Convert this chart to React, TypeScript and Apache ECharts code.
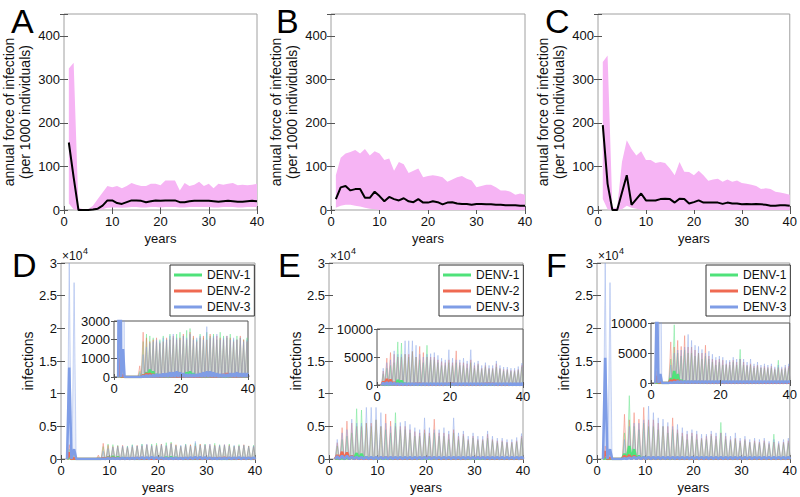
import React, { useEffect, useRef } from "react";
import * as echarts from "echarts";

// ---------- Top panels (A, B, C): annual force of infection, years 1..40 ----------
const YEARS = [1,2,3,4,5,6,7,8,9,10,11,12,13,14,15,16,17,18,19,20,21,22,23,24,25,26,27,28,29,30,31,32,33,34,35,36,37,38,39,40];

const A_MEAN = [155,75,0,0,0,1,3,10,22,22, 16,14,18,22,22,21,18,20,22,21, 22,22,22,18,18,20,21,21,21,21, 20,19,20,21,20,19,19,20,21,20];
const A_UP = [325,338,5,2,2,10,25,40,55,52, 55,50,55,62,58,55,55,60,60,57, 68,68,68,45,62,55,58,65,55,60, 50,60,58,60,62,57,58,57,58,60];
const A_LOW = [15,2,0,0,0,0,0,2,5,6, 6,5,6,7,7,6,6,7,7,6, 7,7,7,6,6,7,7,7,7,7, 6,6,7,7,7,6,6,7,7,7];

const B_MEAN = [25,52,55,45,48,48,28,28,42,32, 20,30,25,22,27,20,18,25,17,17, 20,18,13,17,18,15,14,14,12,14, 14,13,13,12,12,11,11,11,10,10];
const B_UP = [80,120,130,133,138,130,140,125,135,130, 115,118,90,110,105,85,90,95,75,78, 80,78,75,65,70,75,78,72,68,52, 55,58,58,52,45,45,42,35,38,35];
const B_LOW = [5,10,12,12,10,8,5,3,2,0, 0,0,0,0,0,0,0,0,0,0, 0,0,0,0,0,0,0,0,0,0, 0,0,0,0,0,0,0,0,0,0];

const C_MEAN = [195,60,0,0,40,80,12,25,38,22, 22,22,25,26,25,17,26,25,15,18, 22,17,17,17,17,14,17,15,15,13, 14,13,14,13,12,10,10,11,11,10];
const C_UP = [340,355,5,5,110,160,140,125,135,115, 115,108,110,108,95,80,110,88,87,80, 90,80,67,70,72,65,70,65,68,62, 60,58,55,48,50,48,42,40,38,35];
const C_LOW = [25,2,0,0,2,10,5,3,0,0, 0,0,0,0,0,0,0,0,0,0, 0,0,0,0,0,0,0,0,0,0, 0,0,0,0,0,0,0,0,0,0];

// ---------- Bottom panels (D, E, F): seasonal peak of infections per season (1..39) ----------
const SEROTYPES = ["DENV-1", "DENV-2", "DENV-3"];

const D_UP_1 = [1500,600,0,0,0,0,300,1900,2300,2200,2100,1900,2000,2200,2000,2300,2100,2300,2400,2200,2500,2600,2100,2000,2300,2100,2400,2200,2300,2000,2400,2200,2100,2300,2000,2200,2100,2000,2100];
const D_UP_2 = [2200,800,0,0,0,0,600,2400,2100,1900,2000,2100,1800,1900,2100,2000,2200,2000,2100,2300,2000,2400,2200,1900,2100,2200,2000,2300,2100,2200,2100,2000,2200,2100,1900,2000,2200,2000,1900];
const D_UP_3 = [30000,27000,0,0,0,0,200,1200,1600,1800,1900,2000,1900,2100,2000,2200,2300,2100,2000,2200,2100,2300,2000,2100,2200,2000,2700,2100,2200,2300,2000,2100,2200,2000,2100,2000,2100,1900,2000];
const D_MEAN_1 = [300,50,0,0,0,0,0,100,250,400,300,150,100,80,60,50,60,80,100,150,250,300,200,100,60,50,50,60,80,100,80,60,50,50,60,80,100,80,60];
const D_MEAN_2 = [1000,100,0,0,0,0,0,100,200,200,150,120,100,120,150,120,100,80,80,100,120,100,80,80,100,120,150,120,100,100,120,150,200,150,100,100,120,150,120];
const D_MEAN_3 = [14000,1500,0,0,0,0,0,50,100,100,120,150,150,180,200,250,250,300,250,200,150,150,150,150,200,250,300,300,250,200,150,150,150,200,200,250,200,200,200];

const E_UP_1 = [2000,3000,3500,4000,7700,7500,5500,5000,6000,5000,4500,4000,7100,4500,4500,4000,3500,3500,4000,3500,4000,3500,3500,3000,4000,3000,3500,2800,3200,2800,2800,3200,2800,2500,2600,2400,2400,2600,3200];
const E_UP_2 = [2500,4800,5800,5500,5000,5000,5500,5500,6000,5000,6900,5800,5000,5000,5000,4500,4200,4000,4500,4000,6100,4000,4000,3800,4500,3500,3800,3000,3500,3000,3000,3800,3000,2800,2800,2600,2600,2800,3500];
const E_UP_3 = [3000,4000,4500,6100,5500,5500,7900,7900,7900,7100,5500,5000,5500,5600,5800,5300,4800,4500,6300,4800,4500,4500,4800,4300,6300,4000,4300,3500,4000,3500,3500,4300,3500,3200,3200,3000,3000,3300,3900];
const E_MEAN_1 = [100,150,200,300,900,800,300,200,150,150,100,100,150,200,150,100,100,100,100,100,100,100,100,100,100,100,100,100,100,100,100,100,100,100,100,100,100,100,100];
const E_MEAN_2 = [600,1100,1000,500,200,150,150,150,200,250,300,200,150,150,150,150,150,200,250,300,200,150,150,150,150,150,150,200,250,300,250,150,150,150,150,150,150,150,150];
const E_MEAN_3 = [400,500,500,400,300,300,300,300,300,300,300,300,300,300,300,300,300,300,300,300,300,300,300,300,300,300,300,300,300,300,300,300,300,300,300,300,300,300,300];

const F_UP_1 = [500,300,0,0,4000,9700,5000,4500,5500,5000,5000,4500,5000,4000,4500,4000,3500,3000,3500,3000,3000,3000,3500,3000,5600,3000,2800,3000,2500,2800,2500,2500,2400,2500,2200,3800,2200,2400,2500];
const F_UP_2 = [2000,1000,0,0,6850,6000,7100,6100,7900,6000,6000,5500,5000,5000,6300,4500,4000,3800,4000,3800,3200,3500,3800,3500,4000,3500,3000,3200,2800,3000,2600,2800,2600,2800,2400,2600,2400,2600,2800];
const F_UP_3 = [30000,27000,0,0,3000,5000,5500,5500,6000,8100,7100,6300,6100,5600,5000,5300,4800,4300,4500,4300,3800,3800,4300,4000,4000,4000,3500,4000,3200,3500,3000,3200,3000,3200,2700,3000,2700,3000,3200];
const F_MEAN_1 = [100,0,0,0,800,2000,1500,500,300,200,200,200,200,150,150,150,150,150,150,150,200,200,150,150,200,150,150,150,150,150,150,150,150,150,150,150,150,150,150];
const F_MEAN_2 = [1200,200,0,0,500,600,500,300,200,200,200,200,200,200,200,150,150,150,150,150,150,150,150,150,150,150,150,150,150,150,150,150,150,150,150,150,150,150,150];
const F_MEAN_3 = [15500,1500,0,0,100,200,300,300,300,300,300,300,300,300,300,300,300,300,300,300,300,300,300,300,300,300,300,300,300,300,300,300,300,300,300,300,300,300,300];

const INSET_MAX = [3000, 10000, 10000];
const INSET_INTERVAL = [1000, 5000, 5000];

// ---------- styling ----------
const FONT = "Liberation Sans, Arial, Helvetica, sans-serif";
const PINK = "#f6b4f4";
const COLORS = ["#4fe27a", "#ef6a52", "#7f9de6"];
const BOX = "#a0a0a0";

const GRID_TOP = [
  { left: 63, top: 14, width: 194, height: 196 },
  { left: 331, top: 14, width: 194, height: 196 },
  { left: 598, top: 14, width: 195, height: 196 },
];
const GRID_BOT = [
  { left: 61, top: 263, width: 194, height: 196 },
  { left: 329, top: 263, width: 194, height: 196 },
  { left: 597, top: 263, width: 194, height: 196 },
];
const GRID_INSET = [
  { left: 114, top: 321, width: 134, height: 56 },
  { left: 377, top: 329, width: 146, height: 56 },
  { left: 651, top: 323, width: 140, height: 60 },
];

function spikePoints(peaks: number[], half: number) {
  const pts: number[][] = [];
  peaks.forEach((p, i) => {
    const c = i + 1.7;
    pts.push([c - half, 0], [c, p], [c + half, 0]);
  });
  return pts;
}

export default function App() {
  const ref = useRef<HTMLDivElement>(null);

  useEffect(() => {
    if (!ref.current) return;
    const chart = echarts.init(ref.current, null, { renderer: "svg" });

    const grids: any[] = [];
    const xAxes: any[] = [];
    const yAxes: any[] = [];
    const mirrorX: any[] = [];
    const mirrorY: any[] = [];
    const series: any[] = [];

    const tick = { show: true, inside: true, length: 4, lineStyle: { color: "#555", width: 1 } };
    const lbl = { color: "#111", fontSize: 13, fontFamily: FONT };

    const addMirror = (gi: number, xr: any, yr: any, len: number) => {
      mirrorX.push({
        type: "value", gridIndex: gi, position: "top", ...xr,
        axisLine: { show: false }, axisTick: { ...tick, length: len }, axisLabel: { show: false },
        splitLine: { show: false }, z: gi >= 6 ? 9 : 0,
      });
      mirrorY.push({
        type: "value", gridIndex: gi, position: "right", ...yr,
        axisLine: { show: false }, axisTick: { ...tick, length: len }, axisLabel: { show: false },
        splitLine: { show: false }, z: gi >= 6 ? 9 : 0,
      });
    };

    // top grids 0..2
    const topData = [
      [A_LOW, A_UP, A_MEAN],
      [B_LOW, B_UP, B_MEAN],
      [C_LOW, C_UP, C_MEAN],
    ];
    GRID_TOP.forEach((g, k) => {
      grids.push({ ...g, show: true, borderColor: BOX, borderWidth: 1, backgroundColor: "#fff", z: 0 });
      const xr = { min: 0, max: 40, interval: 10 };
      const yr = { min: 0, max: 450, interval: 100 };
      xAxes.push({
        type: "value", gridIndex: k, ...xr,
        axisLine: { show: false }, axisTick: tick, splitLine: { show: false },
        axisLabel: { ...lbl, margin: 5 },
        name: "years", nameLocation: "middle", nameGap: 22,
        nameTextStyle: { ...lbl, fontSize: 13 },
      });
      yAxes.push({
        type: "value", gridIndex: k, ...yr,
        axisLine: { show: false }, axisTick: tick, splitLine: { show: false },
        axisLabel: { ...lbl, margin: 4, formatter: (v: number) => (v > 400 ? "" : String(v)) },
        name: "annual force of infection\n(per 1000 individuals)",
        nameLocation: "middle", nameRotate: 90, nameGap: 31,
        nameTextStyle: { ...lbl, fontSize: 14, lineHeight: 16 },
      });
      addMirror(k, xr, yr, 4);
      const [low, up, mean] = topData[k];
      series.push({
        type: "custom", xAxisIndex: k, yAxisIndex: k, silent: true, z: 2,
        data: YEARS.map((y, i) => [y, low[i], up[i]]),
        renderItem: (params: any, api: any) => {
          if (params.dataIndex !== 0) return null;
          const pts: number[][] = [];
          YEARS.forEach((y, i) => pts.push(api.coord([y, up[i]])));
          for (let i = YEARS.length - 1; i >= 0; i--) pts.push(api.coord([YEARS[i], low[i]]));
          return { type: "polygon", shape: { points: pts }, style: { fill: PINK, stroke: "none" } };
        },
      });
      series.push({
        type: "line", xAxisIndex: k, yAxisIndex: k, symbol: "none",
        data: YEARS.map((y, i) => [y, mean[i]]),
        lineStyle: { color: "#000", width: 2 }, itemStyle: { color: "#000" }, z: 3,
      });
    });

    const botUp = [
      [D_UP_1, D_UP_2, D_UP_3],
      [E_UP_1, E_UP_2, E_UP_3],
      [F_UP_1, F_UP_2, F_UP_3],
    ];
    const botMean = [
      [D_MEAN_1, D_MEAN_2, D_MEAN_3],
      [E_MEAN_1, E_MEAN_2, E_MEAN_3],
      [F_MEAN_1, F_MEAN_2, F_MEAN_3],
    ];

    const addPanelSeries = (axisIdx: number, k: number, zBase: number) => {
      for (let s = 0; s < 3; s++) {
        series.push({
          type: "line", name: "band" + axisIdx + "_" + s, xAxisIndex: axisIdx, yAxisIndex: axisIdx,
          symbol: "none", data: spikePoints(botUp[k][s], 0.42), clip: true,
          lineStyle: { color: COLORS[s], width: 0.8, opacity: 0.5 },
          areaStyle: { color: COLORS[s], opacity: 0.17 },
          silent: true, z: zBase,
        });
      }
      for (let s = 0; s < 3; s++) {
        series.push({
          type: "line", name: SEROTYPES[s], xAxisIndex: axisIdx, yAxisIndex: axisIdx,
          symbol: "none", data: spikePoints(botMean[k][s], 0.45), clip: true,
          lineStyle: { color: COLORS[s], width: 2.6 }, itemStyle: { color: COLORS[s] },
          z: zBase + 1,
        });
      }
    };

    // bottom main grids 3..5
    GRID_BOT.forEach((g, k) => {
      const idx = 3 + k;
      grids.push({ ...g, show: true, borderColor: BOX, borderWidth: 1, backgroundColor: "#fff", z: 0 });
      const xr = { min: 0, max: 40, interval: 10 };
      const yr = { min: 0, max: 30000, interval: 5000 };
      xAxes.push({
        type: "value", gridIndex: idx, ...xr,
        axisLine: { show: false }, axisTick: tick, splitLine: { show: false },
        axisLabel: { ...lbl, margin: 5 },
        name: "years", nameLocation: "middle", nameGap: 22,
        nameTextStyle: { ...lbl, fontSize: 13 },
      });
      yAxes.push({
        type: "value", gridIndex: idx, ...yr,
        axisLine: { show: false }, axisTick: tick, splitLine: { show: false },
        axisLabel: { ...lbl, margin: 4, formatter: (v: number) => String(v / 10000) },
        name: "infections", nameLocation: "middle", nameRotate: 90, nameGap: 26,
        nameTextStyle: { ...lbl, fontSize: 14 },
      });
      addMirror(idx, xr, yr, 4);
      addPanelSeries(idx, k, 2);
    });

    // inset grids 6..8
    GRID_INSET.forEach((g, k) => {
      const idx = 6 + k;
      grids.push({ ...g, show: true, borderColor: "#555", borderWidth: 1, backgroundColor: "#fff", z: 6 });
      const xr = { min: 0, max: 40, interval: 20 };
      const yr = { min: 0, max: INSET_MAX[k], interval: INSET_INTERVAL[k] };
      xAxes.push({
        type: "value", gridIndex: idx, ...xr, z: 9,
        axisLine: { show: false }, axisTick: { ...tick, length: 3 }, splitLine: { show: false },
        axisLabel: { ...lbl, margin: 5 },
      });
      yAxes.push({
        type: "value", gridIndex: idx, ...yr, z: 9,
        axisLine: { show: false }, axisTick: { ...tick, length: 3 }, splitLine: { show: false },
        axisLabel: { ...lbl, margin: 4, formatter: (v: number) => String(v) },
      });
      addMirror(idx, xr, yr, 3);
      addPanelSeries(idx, k, 7);
    });

    const legendLeft = [170, 439, 706];
    const legends = legendLeft.map((left) => ({
      left, top: 265, orient: "vertical", selectedMode: false,
      data: SEROTYPES, icon: "rect", itemWidth: 28, itemHeight: 3, itemGap: 4,
      textStyle: { fontSize: 12, fontFamily: FONT, color: "#111" },
      borderColor: "#333", borderWidth: 1, backgroundColor: "#fff",
      padding: [4, 4, 3, 4], z: 10,
    }));

    const letters: [string, number, number][] = [
      ["A", 11, 4], ["B", 276, 4], ["C", 545, 4],
      ["D", 12, 248], ["E", 278, 248], ["F", 546, 248],
    ];
    const graphic: any[] = letters.map(([t, x, y]) => ({
      type: "text", left: x, top: y, z: 20,
      style: { text: t, fontSize: 34, lineHeight: 26, fontFamily: FONT, fill: "#000" },
    }));
    [62, 330, 598].forEach((x) => {
      graphic.push({ type: "text", left: x, top: 250, z: 20, style: { text: "×10", fontSize: 12, fontFamily: FONT, fill: "#111" } });
      graphic.push({ type: "text", left: x + 21, top: 246, z: 20, style: { text: "4", fontSize: 9, fontFamily: FONT, fill: "#111" } });
    });

    chart.setOption({
      animation: false,
      textStyle: { fontFamily: FONT },
      grid: grids,
      xAxis: [...xAxes, ...mirrorX],
      yAxis: [...yAxes, ...mirrorY],
      legend: legends,
      series,
      graphic,
    });

    return () => chart.dispose();
  }, []);

  return (
    <div
      ref={ref}
      style={{ position: "fixed", left: 0, top: 0, width: 800, height: 497, background: "#fff" }}
    />
  );
}
